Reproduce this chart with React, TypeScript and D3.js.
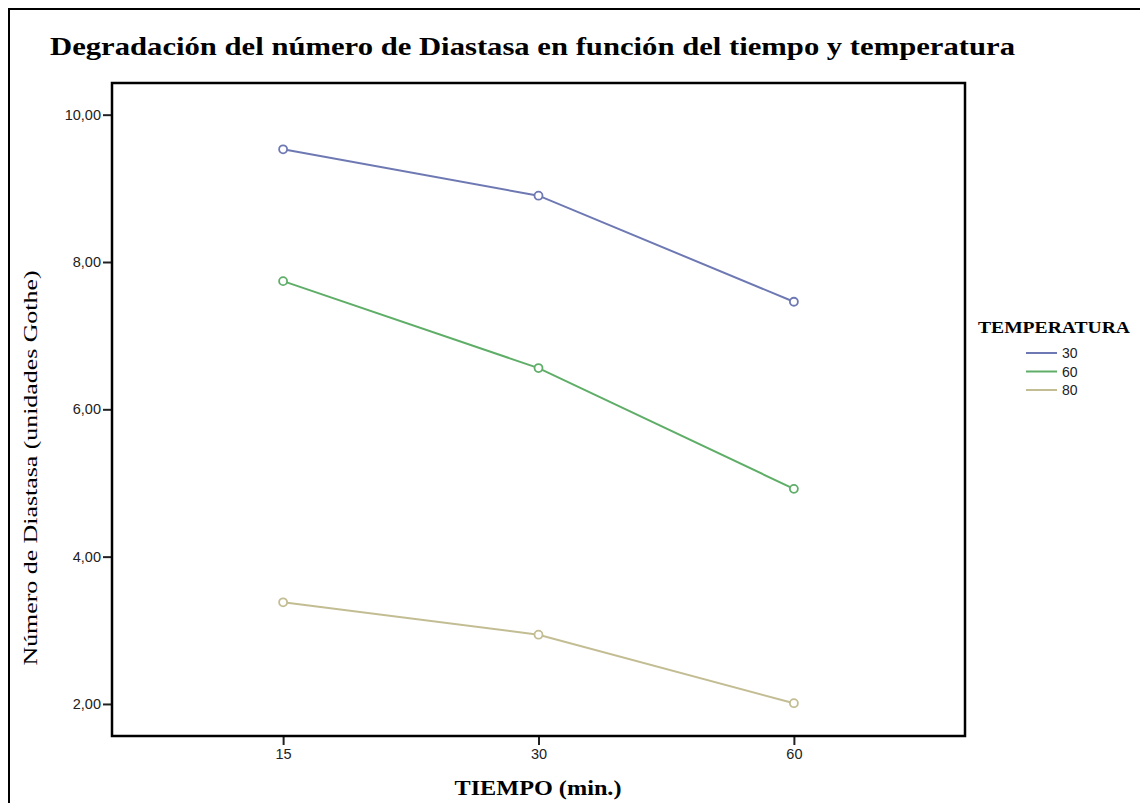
import React, { useEffect, useRef } from "react";
import * as d3 from "d3";

// tiempo (min.) categories
const tiempos = ["15", "30", "60"];
// temperatura series
const temperaturas = ["30", "60", "80"];
const serie30 = [9.53, 8.9, 7.46];
const serie60 = [7.74, 6.56, 4.92];
const serie80 = [3.38, 2.94, 2.01];
const yTicks = [2, 4, 6, 8, 10];
const colores = ["#6e79b3", "#5fae68", "#c3bd93"];

const App = () => {
  const svgRef = useRef<SVGSVGElement>(null);

  useEffect(() => {
    const width = 1140,
      height = 803;
    const left = 112,
      top = 83,
      right = 965,
      bottom = 736;

    const svg = d3.select(svgRef.current).attr("width", width).attr("height", height);
    svg.selectAll("*").remove();

    // outer frame
    svg.append("rect")
      .attr("x", 9).attr("y", 9)
      .attr("width", 1140).attr("height", 820)
      .attr("fill", "white").attr("stroke", "black").attr("stroke-width", 2);

    const x = d3.scalePoint().domain(tiempos).range([left, right]).padding(0.67);
    const y = d3.scaleLinear().domain([1.565, 10.43]).range([bottom, top]);

    // title
    svg.append("text")
      .attr("x", 50).attr("y", 55)
      .attr("font-family", "Liberation Serif, serif")
      .attr("font-weight", "bold")
      .attr("font-size", 25)
      .attr("textLength", 965)
      .attr("lengthAdjust", "spacingAndGlyphs")
      .text("Degradación del número de Diastasa en función del tiempo y temperatura");

    // axes
    const yAxis = svg.append("g")
      .attr("transform", `translate(${left},0)`)
      .call(d3.axisLeft(y).tickValues(yTicks).tickSize(9).tickPadding(2)
        .tickFormat(d => d3.format(".2f")(d as number).replace(".", ",")));
    yAxis.select(".domain").remove();
    yAxis.selectAll("line").attr("stroke", "#222").attr("stroke-width", 2);
    yAxis.selectAll("text").attr("font-family", "Liberation Sans, Arial, sans-serif")
      .attr("font-size", 14.5).attr("fill", "#222");

    const xAxis = svg.append("g")
      .attr("transform", `translate(0,${bottom})`)
      .call(d3.axisBottom(x).tickSize(9).tickPadding(4));
    xAxis.select(".domain").remove();
    xAxis.selectAll("line").attr("stroke", "#222").attr("stroke-width", 2);
    xAxis.selectAll("text").attr("font-family", "Liberation Sans, Arial, sans-serif")
      .attr("font-size", 14.5).attr("fill", "#222");

    // plot box
    svg.append("rect")
      .attr("x", left).attr("y", top)
      .attr("width", right - left).attr("height", bottom - top)
      .attr("fill", "none").attr("stroke", "black").attr("stroke-width", 2.5);

    // axis titles
    svg.append("text")
      .attr("transform", `translate(37,468) rotate(-90)`)
      .attr("text-anchor", "middle")
      .attr("font-family", "Liberation Serif, serif")
      .attr("font-size", 19)
      .attr("textLength", 395)
      .attr("lengthAdjust", "spacingAndGlyphs")
      .text("Número de Diastasa (unidades Gothe)");

    svg.append("text")
      .attr("x", 538).attr("y", 795)
      .attr("text-anchor", "middle")
      .attr("font-family", "Liberation Serif, serif")
      .attr("font-weight", "bold")
      .attr("font-size", 20)
      .attr("textLength", 167)
      .attr("lengthAdjust", "spacingAndGlyphs")
      .text("TIEMPO (min.)");

    // series
    const series = [serie30, serie60, serie80];
    const line = d3.line<number>()
      .x((_, i) => x(tiempos[i]) as number)
      .y(d => y(d));

    series.forEach((vals, k) => {
      svg.append("path")
        .datum(vals)
        .attr("d", line)
        .attr("fill", "none")
        .attr("stroke", colores[k])
        .attr("stroke-width", 2);
      svg.selectAll(`.pt${k}`)
        .data(vals)
        .join("circle")
        .attr("class", `pt${k}`)
        .attr("cx", (_, i) => x(tiempos[i]) as number)
        .attr("cy", d => y(d))
        .attr("r", 4)
        .attr("fill", "white")
        .attr("stroke", colores[k])
        .attr("stroke-width", 1.8);
    });

    // legend
    const legend = svg.append("g");
    legend.append("text")
      .attr("x", 978).attr("y", 333)
      .attr("font-family", "Liberation Serif, serif")
      .attr("font-weight", "bold")
      .attr("font-size", 17)
      .attr("textLength", 152)
      .attr("lengthAdjust", "spacingAndGlyphs")
      .text("TEMPERATURA");

    temperaturas.forEach((t, k) => {
      const ly = 353 + k * 18.5;
      legend.append("line")
        .attr("x1", 1026).attr("x2", 1057)
        .attr("y1", ly).attr("y2", ly)
        .attr("stroke", colores[k]).attr("stroke-width", 2);
      legend.append("text")
        .attr("x", 1062).attr("y", ly + 5)
        .attr("font-family", "Liberation Sans, Arial, sans-serif")
        .attr("font-size", 14)
        .attr("fill", "#222")
        .text(t);
    });
  }, []);

  return <svg ref={svgRef} style={{ position: "absolute", left: 0, top: 0 }}></svg>;
};

export default App;
